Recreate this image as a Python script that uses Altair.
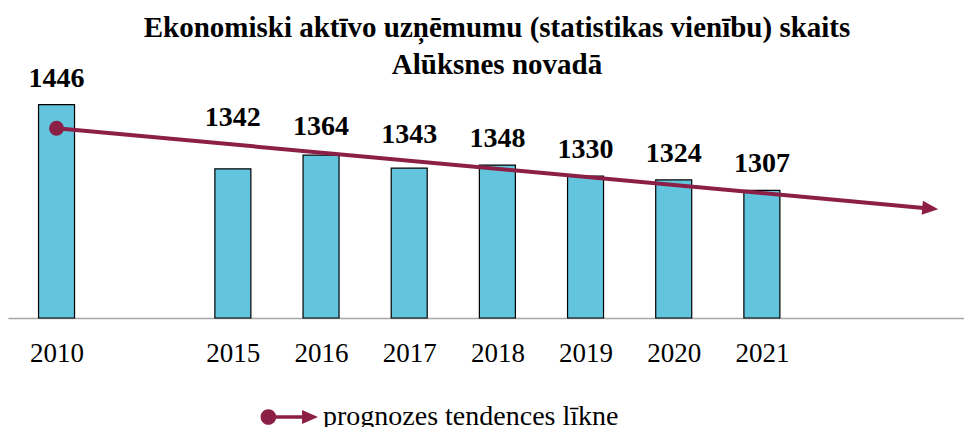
import altair as alt
import pandas as pd

# ---- data ----
categories = ["2010", "", "2015", "2016", "2017", "2018", "2019", "2020", "2021", "", ""]
counts = [1446, None, 1342, 1364, 1343, 1348, 1330, 1324, 1307, None, None]
trend_slots = [0, 10]
trend_values = [1407.7, 1276.3]
title_lines = ["Ekonomiski aktīvo uzņēmumu (statistikas vienību) skaits", "Alūksnes novadā"]
legend_label = "prognozes tendences līkne"

# ---- layout / style ----
Y_MIN, Y_MAX = 1100, 1473
X_DOM = [-0.4938, 10.2357]
W, H = 956, 230
PAD = {"left": 0, "top": 80, "right": 0, "bottom": 109}
BAR = "#62C4DD"
TREND = "#8C1F46"
FONT = "Liberation Serif"

bars = pd.DataFrame({"slot": list(range(len(categories))), "category": categories, "count": counts}).dropna()
bars["count"] = bars["count"].astype(int)
bars["base"] = Y_MIN
slope = (trend_values[1] - trend_values[0]) / (trend_slots[1] - trend_slots[0])
bars["anchor"] = [max(c, trend_values[0] + slope * (s - trend_slots[0])) for s, c in zip(bars["slot"], bars["count"])]

trend = pd.DataFrame({"x0": [trend_slots[0]], "y0": [trend_values[0]],
                      "x1": [trend_slots[1]], "y1": [trend_values[1]]})
start = pd.DataFrame({"slot": [trend_slots[0]], "value": [trend_values[0]], "series": [legend_label]})
end = pd.DataFrame({"slot": [trend_slots[1]], "value": [trend_values[1]]})

label_array = "[" + ",".join("'" + c + "'" for c in categories) + "]"
tick_values = [i for i, c in enumerate(categories) if c]

xscale = alt.Scale(domain=X_DOM, nice=False, zero=False)
yscale = alt.Scale(domain=[Y_MIN, Y_MAX], nice=False, zero=False)
xaxis = alt.Axis(values=tick_values, labelExpr=label_array + "[datum.value]", ticks=False, tickSize=0,
                 grid=False, domainColor="#A6A6A6", domainWidth=1.5, labelFont=FONT, labelFontSize=27,
                 labelColor="black", labelPadding=22, title=None, labelFlush=False, labelOverlap=False)

bar_layer = alt.Chart(bars).mark_bar(size=36, color=BAR, stroke="black", strokeWidth=1.2).encode(
    x=alt.X("slot:Q", scale=xscale, axis=xaxis),
    y=alt.Y("count:Q", scale=yscale, axis=None),
    y2="base:Q",
)

label_layer = alt.Chart(bars).mark_text(font=FONT, fontSize=28, fontWeight="bold", baseline="middle",
                                       dy=-26, color="black").encode(
    x=alt.X("slot:Q", scale=xscale, axis=xaxis),
    y=alt.Y("anchor:Q", scale=yscale, axis=None),
    text=alt.Text("count:Q", format="d"),
)

rule_layer = alt.Chart(trend).mark_rule(color=TREND, strokeWidth=4, x2Offset=-12, y2Offset=-1.1).encode(
    x=alt.X("x0:Q", scale=xscale, axis=xaxis),
    y=alt.Y("y0:Q", scale=yscale, axis=None),
    x2="x1:Q",
    y2="y1:Q",
)

arrow_layer = alt.Chart(end).mark_point(shape="M-2,-0.875L0,0L-2,0.875Z", size=256, filled=True,
                                        opacity=1, color=TREND, strokeWidth=0, angle=5.2).encode(
    x=alt.X("slot:Q", scale=xscale, axis=xaxis),
    y=alt.Y("value:Q", scale=yscale, axis=None),
)

LEGEND_PATH = ("M-0.98,0A0.27,0.27 0 1 1 -0.44,0A0.27,0.27 0 1 1 -0.98,0Z"
               "M-0.46,-0.06L0.45,-0.06L0.45,-0.24L1,0L0.45,0.24L0.45,0.06L-0.46,0.06Z")

start_layer = alt.Chart(start).mark_point(shape="circle", size=225, filled=True, opacity=1, strokeWidth=0).encode(
    x=alt.X("slot:Q", scale=xscale, axis=xaxis),
    y=alt.Y("value:Q", scale=yscale, axis=None),
    color=alt.Color("series:N", scale=alt.Scale(range=[TREND]),
                    legend=alt.Legend(title=None, orient="none", legendX=252, legendY=300,
                                      symbolType=LEGEND_PATH, symbolSize=3364, symbolStrokeWidth=0,
                                      symbolOpacity=1, labelFont=FONT, labelFontSize=28,
                                      labelColor="black", labelOffset=5, padding=0, labelLimit=0)),
)

chart = alt.layer(bar_layer, rule_layer, arrow_layer, start_layer, label_layer).properties(
    width=W, height=H,
    autosize=alt.AutoSizeParams(type="none"),
    padding=PAD,
    background="white",
    title=alt.Title(text=title_lines, font=FONT, fontSize=29, fontWeight="bold", color="black",
                    anchor="middle", offset=-15, lineHeight=37, dx=11),
).configure_view(stroke=None)

chart.save("out.html", embed_options={"renderer": "svg", "actions": False})
